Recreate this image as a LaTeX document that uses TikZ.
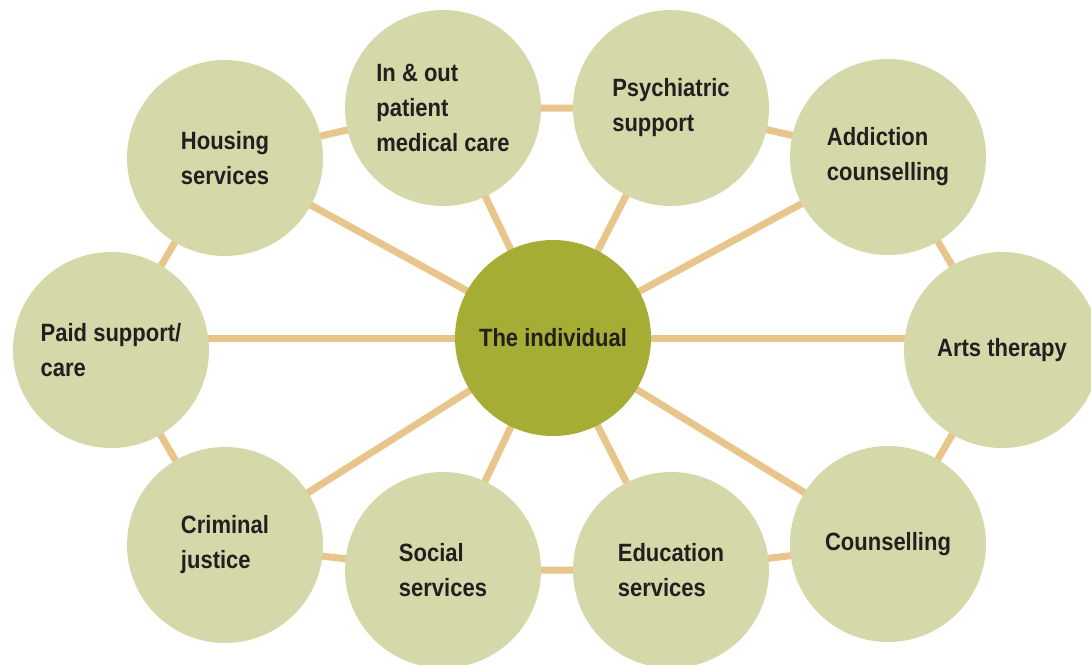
\documentclass[tikz,border=0pt]{standalone}
\usepackage{fontspec}
\setmainfont{Liberation Sans}[FakeStretch=0.88]
\usetikzlibrary{backgrounds}
\definecolor{ringfill}{RGB}{213,216,168}
\definecolor{corefill}{RGB}{166,173,53}
\definecolor{linkcol}{RGB}{232,197,138}
\definecolor{inkcol}{RGB}{35,31,32}
\tikzset{
  service/.style={circle,fill=ringfill,minimum size=98pt,inner sep=0pt,
    align=left,text=inkcol,font=\bfseries\fontsize{12.5}{17.5}\selectfont},
  core/.style={service,fill=corefill},
  link/.style={draw=linkcol,line width=3.5pt}
}
\begin{document}
\begin{tikzpicture}[x=0.5pt,y=-0.5pt]

% Fix the page and cut what runs over
\useasboundingbox (0,0) rectangle (1091,664);
\clip (0,0) rectangle (1091,664);

% Draw the centre and the services round it
\node [core]    (indiv)  at (553,338) {The individual};
\node [service] (house)  at (225,158) {Housing\\services};
\node [service] (inout)  at (443,108) {In \& out\\patient\\medical care};
\node [service] (psych)  at (671,108) {Psychiatric\\support};
\node [service] (addict) at (888,157) {Addiction\\counselling};
\node [service] (arts)   at (1002,350) {Arts therapy};
\node [service] (couns)  at (888,544) {Counselling};
\node [service] (edu)    at (671,570) {Education\\services};
\node [service] (social) at (443,570) {Social\\services};
\node [service] (crim)   at (225,545) {Criminal\\justice};
\node [service] (paid)   at (111,350) {Paid support/\\care};

\begin{pgfonlayer}{background}% lines sit behind the circles
  % spokes
  \foreach \s in {house,inout,psych,addict,couns,edu,social,crim}
    \draw [link] (indiv.center) -- (\s.center);
  \draw [link] (indiv.center) -- (indiv.center -| paid.center);
  \draw [link] (indiv.center) -- (indiv.center -| arts.center);
  % outer ring
  \draw [link] (house.center) -- (inout.center) -- (psych.center) --
               (addict.center) -- (arts.center) -- (couns.center) --
               (edu.center) -- (social.center) -- (crim.center) --
               (paid.center) -- cycle;
\end{pgfonlayer}

\end{tikzpicture}
\end{document}
